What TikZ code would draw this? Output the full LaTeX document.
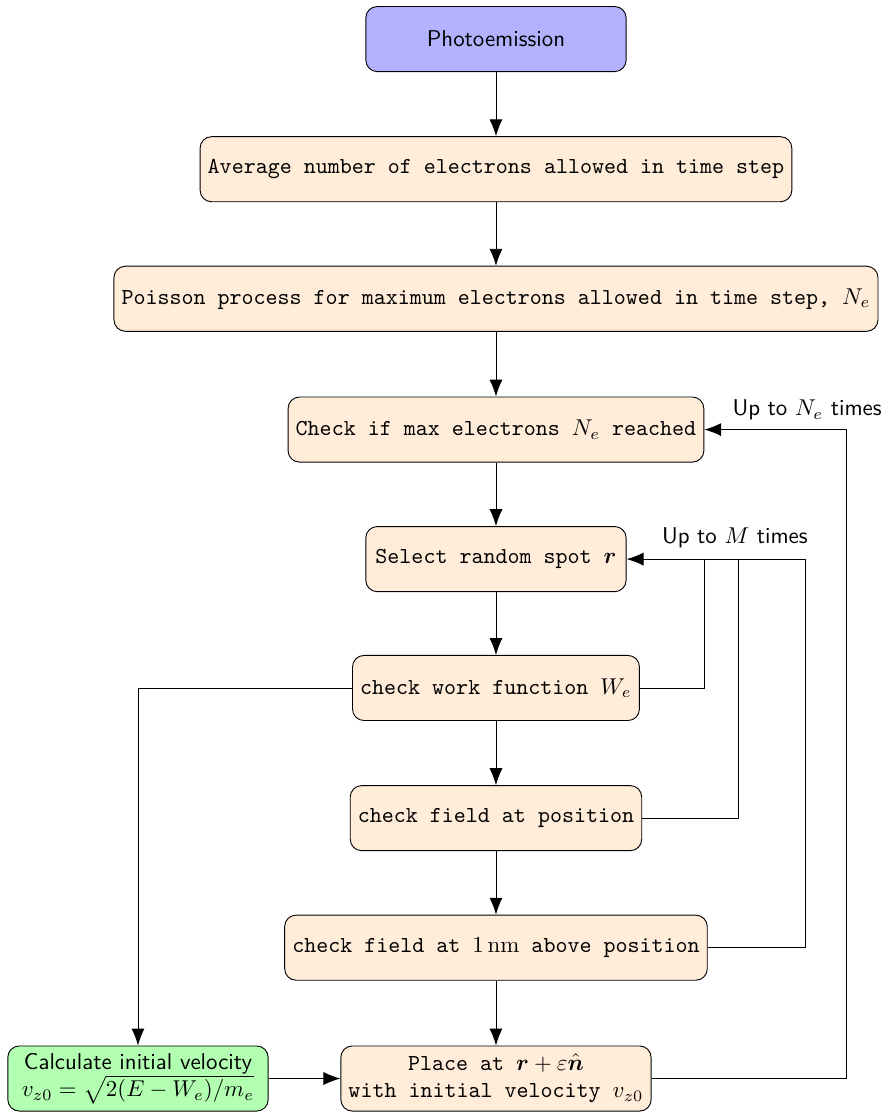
\documentclass[tikz,border=0pt]{standalone}
\usepackage{amsmath,amssymb}
\usepackage{bm}
\usepackage{xcolor}
\usepackage{tikz}
\usetikzlibrary{arrows.meta,positioning,calc}
\tikzset{stepbox/.style={draw,rounded corners=5pt,fill=orange!15,minimum width=4cm,minimum height=1cm,align=center,font=\ttfamily}}

\begin{document}
\begin{tikzpicture}[->, >={Latex[length=2.6mm,width=2mm]}, auto, thin]
\tikzstyle{startbox}=[stepbox,fill=blue!30,font=\sffamily]
\tikzstyle{calcbox}=[stepbox,fill=green!30,font=\sffamily,inner sep=1pt]
\useasboundingbox (0,0) rectangle (13.66,-17.10);
    \node[startbox] (P) at (7.62,-0.60) {Photoemission};
    \node[stepbox] (A) at (7.62,-2.60) {Average number of electrons allowed in time step};
    \node[stepbox] (B) at (7.62,-4.59) {Poisson process for maximum electrons allowed in time step, $N_e$};
    \node[stepbox] (C) at (7.62,-6.60) {Check if max electrons $N_e$ reached};
    \node[stepbox] (S) at (7.62,-8.59) {Select random spot $\bm{r}$};
    \node[stepbox] (W) at (7.62,-10.57) {check work function $W_e$};
    \node[stepbox] (F) at (7.62,-12.57) {check field at position};
    \node[stepbox] (G) at (7.62,-14.56) {check field at $1\,\mathrm{nm}$ above position};
    \node[stepbox] (E) at (7.62,-16.57) {Place at $\bm{r}+\varepsilon\hat{\bm{n}}$\\with initial velocity $v_{z0}$};
    \node[calcbox] (V) at (2.12,-16.57) {Calculate initial velocity\\$v_{z0}=\sqrt{2(E-W_e)/m_e}$};

    % main chain
    \draw (P) -- (A);
    \draw (A) -- (B);
    \draw (B) -- (C);
    \draw (C) -- (S);
    \draw (S) -- (W);
    \draw (W) -- (F);
    \draw (F) -- (G);
    \draw (G) -- (E);

    % side branches
    \draw (W.west) -| (V.north);
    \draw (V) -- (E);

    % retry loops
    \draw (E.east) -| (13.0,-6.60) -- (C.east);
    \node[font=\sffamily] (LN) at (12.40,-6.30) {Up to $N_e$ times};
    \draw[-] (W.east) -| (10.83,-8.59);
    \draw[-] (F.east) -| (11.35,-8.59);
    \draw (G.east) -| (12.37,-8.59) -- (S.east);
    \node[font=\sffamily] (LM) at (11.29,-8.26) {Up to $M$ times};
\end{tikzpicture}
\end{document}
